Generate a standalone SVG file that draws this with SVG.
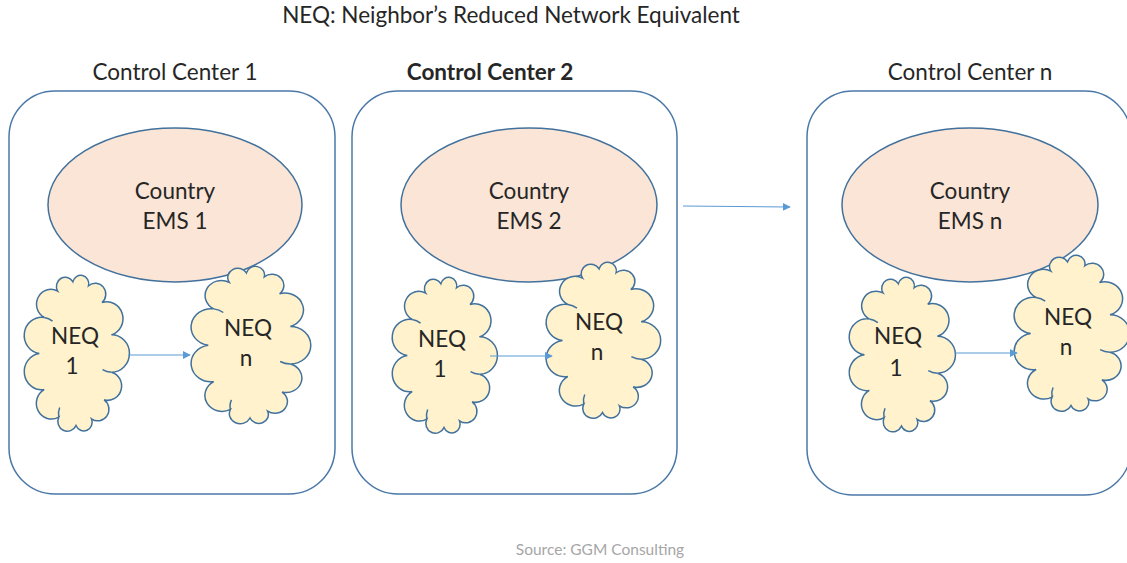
<svg xmlns="http://www.w3.org/2000/svg" xmlns:xlink="http://www.w3.org/1999/xlink" width="1127" height="563" viewBox="0 0 1127 563">
  <style>
    text { font-family: Lato, "Open Sans", "Liberation Sans", sans-serif; fill: #262626; text-anchor: middle; }
    .title { font-size: 22.5px; }
    .hdr { font-size: 22.5px; }
    .hdr-b { font-size: 22.5px; font-weight: bold; }
    .lbl { font-size: 22.5px; }
    .src { font-size: 15.5px; fill: #a6a6a6; }
    .cc { fill: #ffffff; stroke: #4a78a8; stroke-width: 1.5; }
    .ems { fill: #fbe5d6; stroke: #41719c; stroke-width: 1.5; }
    .cloud { fill: #fff2cc; stroke: #41719c; stroke-width: 1.5; vector-effect: non-scaling-stroke; }
    .cloud-in { fill: none; stroke: #41719c; stroke-width: 1.5; vector-effect: non-scaling-stroke; }
    .link { stroke: #5b9bd5; stroke-width: 1.2; fill: none; marker-end: url(#arrow); }
  </style>
  <defs>
    <marker id="arrow" viewBox="0 0 10 10" refX="9" refY="5" markerWidth="8" markerHeight="8" markerUnits="userSpaceOnUse" orient="auto">
      <path d="M0,0 L10,5 L0,10 z" fill="#5b9bd5"/>
    </marker>
    <!-- cloud in a 100 x 150 box: round lobes between points of an ellipse, plus two inner hooks -->
    <g id="cloudShape">
      <path class="cloud" d="M46.9,7.3 A1 1 0 0 1 62.3,11.1 A1 1 0 0 1 75.5,26.9 A1 1 0 0 1 84.8,57.4 A1 1 0 0 1 84.8,92.6 A1 1 0 0 1 77.6,118.7 A1 1 0 0 1 65.2,136.6 A1 1 0 0 1 50,143 A1 1 0 0 1 33.1,135 A1 1 0 0 1 18.8,109 A1 1 0 0 1 14,75 A1 1 0 0 1 18.8,41 A1 1 0 0 1 32,16.1 A1 1 0 0 1 46.9,7.3 Z"/>
      <path class="cloud-in" d="M84.8,92.6 A17.6 17.6 0 0 1 76,90.2 M18.8,41 A17.2 17.2 0 0 1 27,44.4 M33.1,135 A15 15 0 0 1 34,126"/>
    </g>
  </defs>

  <rect width="1127" height="563" fill="#ffffff"/>

  <text class="title" x="511" y="23">NEQ: Neighbor’s Reduced Network Equivalent</text>

  <!-- Control Center 1 -->
  <g id="cc1">
    <text class="hdr" x="175" y="80">Control Center 1</text>
    <rect class="cc" x="9" y="91" width="326" height="403" rx="46" ry="46"/>
  </g>
  <g id="ems1">
    <ellipse class="ems" cx="175" cy="205" rx="127" ry="77"/>
    <text class="lbl" x="175" y="199">Country</text>
    <text class="lbl" x="175" y="229">EMS 1</text>
  </g>
  <g id="neq1-1">
    <use xlink:href="#cloudShape" transform="translate(25,274) scale(1.02,1.06)"/>
    <text class="lbl" x="75" y="344">NEQ</text>
    <text class="lbl" x="72" y="374">1</text>
  </g>
  <g id="neq1-n">
    <use xlink:href="#cloudShape" transform="translate(192,265) scale(1.16,1.07)"/>
    <text class="lbl" x="248" y="336">NEQ</text>
    <text class="lbl" x="246" y="366">n</text>
  </g>

  <!-- Control Center 2 -->
  <g id="cc2">
    <text class="hdr-b" x="490" y="80">Control Center 2</text>
    <rect class="cc" x="352" y="91" width="325" height="403" rx="46" ry="46"/>
  </g>
  <g id="ems2">
    <ellipse class="ems" cx="529" cy="205" rx="128" ry="77"/>
    <text class="lbl" x="529" y="199">Country</text>
    <text class="lbl" x="529" y="229">EMS 2</text>
  </g>
  <g id="neq2-1">
    <use xlink:href="#cloudShape" transform="translate(393,276) scale(1.02,1.06)"/>
    <text class="lbl" x="442" y="347">NEQ</text>
    <text class="lbl" x="440" y="377">1</text>
  </g>
  <g id="neq2-n">
    <use xlink:href="#cloudShape" transform="translate(547,261) scale(1.11,1.06)"/>
    <text class="lbl" x="599" y="330">NEQ</text>
    <text class="lbl" x="597" y="360">n</text>
  </g>

  <!-- Control Center n -->
  <g id="ccn">
    <text class="hdr" x="970" y="80">Control Center n</text>
    <rect class="cc" x="807" y="91" width="324" height="404" rx="46" ry="46"/>
  </g>
  <g id="emsn">
    <ellipse class="ems" cx="970" cy="205" rx="128" ry="77"/>
    <text class="lbl" x="970" y="199">Country</text>
    <text class="lbl" x="970" y="229">EMS n</text>
  </g>
  <g id="neqn-1">
    <use xlink:href="#cloudShape" transform="translate(850,276) scale(1.03,1.05)"/>
    <text class="lbl" x="898" y="344">NEQ</text>
    <text class="lbl" x="896" y="376">1</text>
  </g>
  <g id="neqn-n">
    <use xlink:href="#cloudShape" transform="translate(1015,254) scale(1.12,1.06)"/>
    <text class="lbl" x="1068" y="325">NEQ</text>
    <text class="lbl" x="1066" y="355">n</text>
  </g>

  <!-- connectors -->
  <g id="connectors">
    <line class="link" x1="128" y1="355" x2="190" y2="355"/>
    <line class="link" x1="490" y1="356" x2="552" y2="356"/>
    <line class="link" x1="955" y1="353" x2="1017" y2="353"/>
    <line class="link" x1="683" y1="206" x2="790" y2="207"/>
  </g>

  <text class="src" x="600" y="555">Source: GGM Consulting</text>
</svg>
